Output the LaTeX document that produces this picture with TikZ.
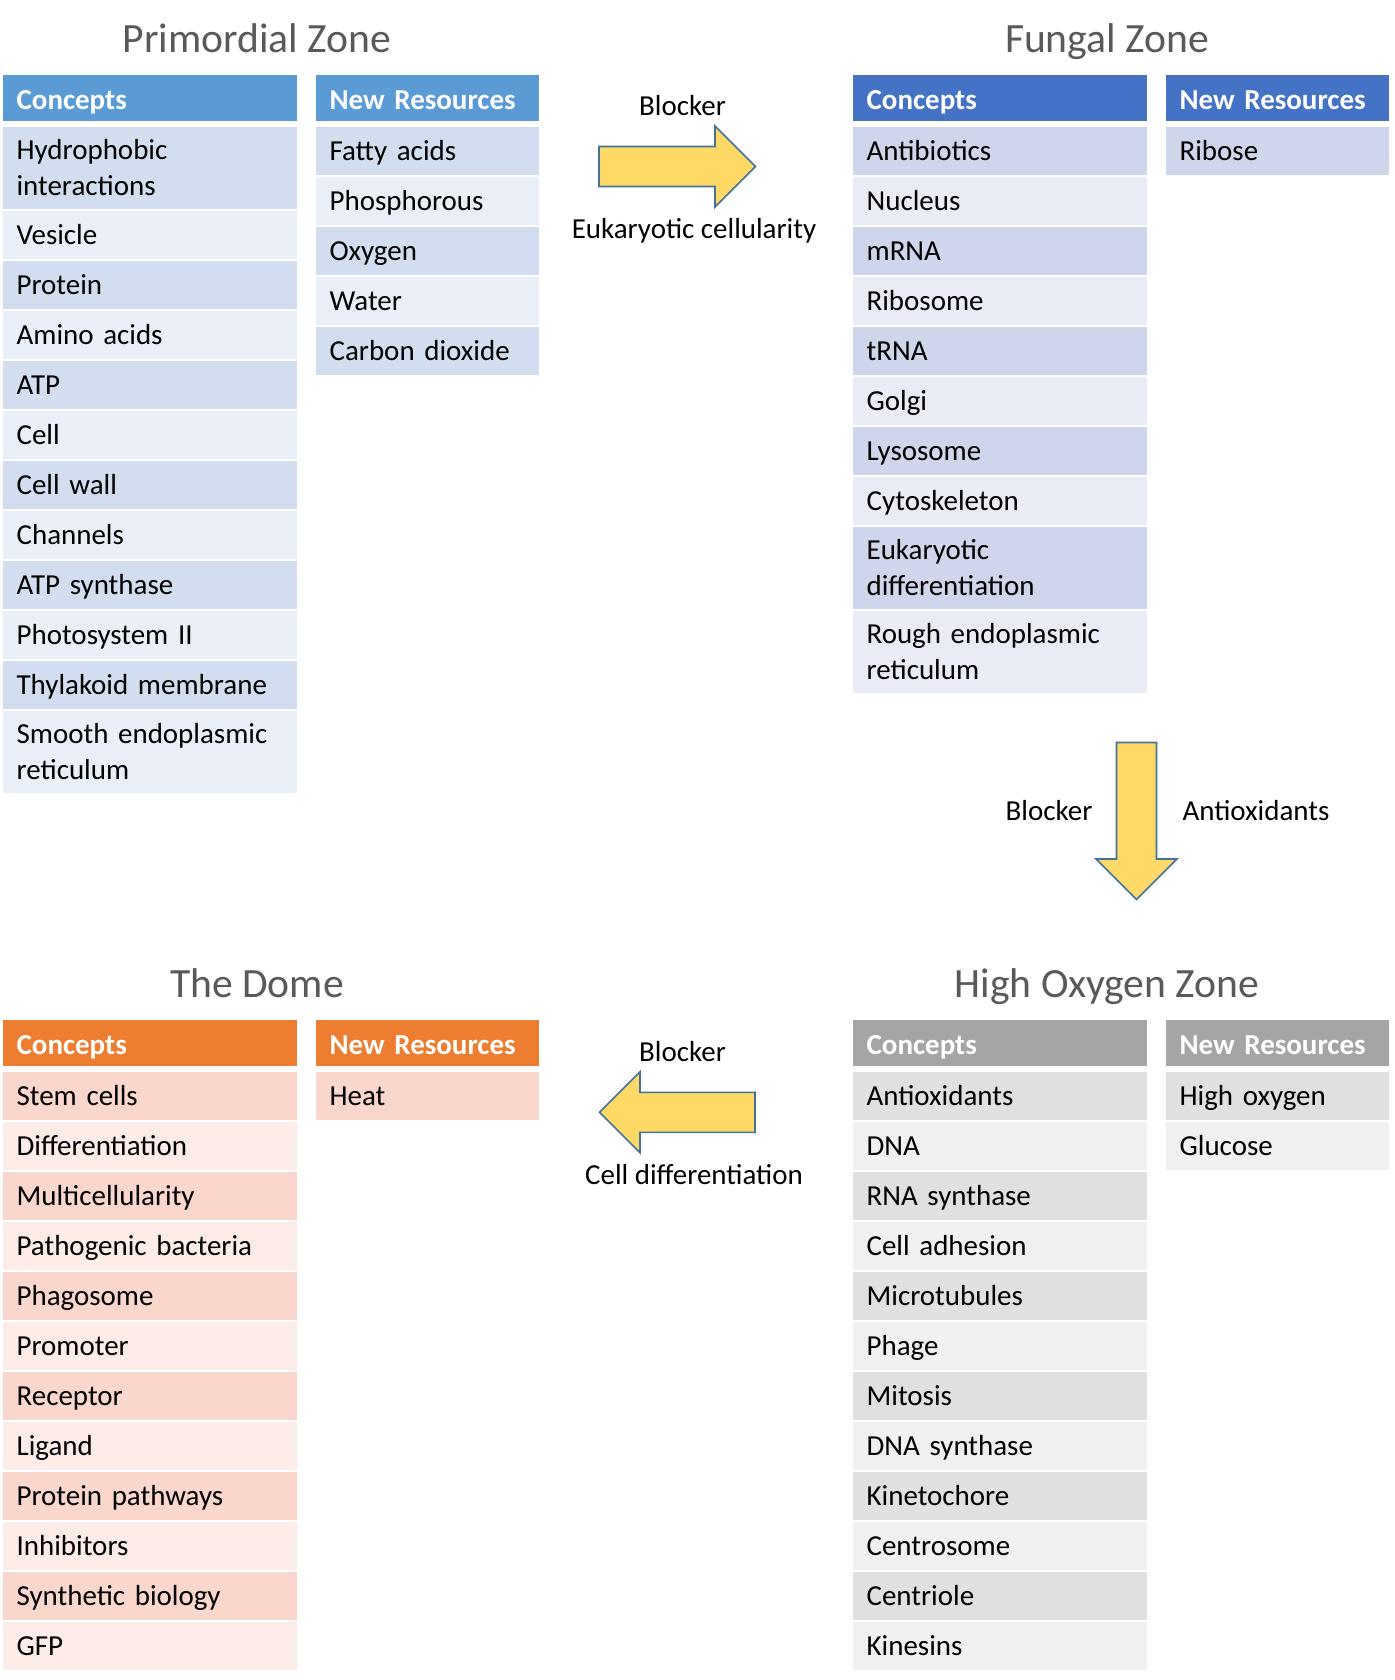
\documentclass[tikz,border=0pt]{standalone}
\usepackage{fontspec}
\setmainfont{Carlito}
\usetikzlibrary{positioning}

\definecolor{primhead}{HTML}{5B9BD5}
\definecolor{primdark}{HTML}{D2DEEF}
\definecolor{primlight}{HTML}{EAEFF7}
\definecolor{funghead}{HTML}{4472C4}
\definecolor{fungdark}{HTML}{CFD5EA}
\definecolor{funglight}{HTML}{E9EBF5}
\definecolor{domehead}{HTML}{ED7D31}
\definecolor{domedark}{HTML}{F9D7CD}
\definecolor{domelight}{HTML}{FBECE8}
\definecolor{oxyhead}{HTML}{A5A5A5}
\definecolor{oxydark}{HTML}{E0E0E0}
\definecolor{oxylight}{HTML}{F0F0F0}
\definecolor{titlegray}{HTML}{595959}
\definecolor{arrowfill}{HTML}{FFD966}
\definecolor{arrowline}{HTML}{41719C}

\newcommand{\hdstrut}{\rule[-4.5pt]{0pt}{25.2pt}}
\newcommand{\rowtop}{\rule{0pt}{19.55pt}}
\newcommand{\rowbot}{\rule[-5.65pt]{0pt}{5.65pt}}

\begin{document}
\begin{tikzpicture}[x=0.025cm, y=-0.025cm, node distance=0.0625cm, font=\fontsize{20.6}{25.2}\selectfont]

    \tikzstyle{headbox}=[rectangle, anchor=north west, outer sep=0pt, inner xsep=0.34cm, inner ysep=0pt, minimum height=1.15cm, align=left, text=white, font=\fontsize{20.6}{25.2}\selectfont\bfseries, execute at begin node=\hdstrut]
    \tikzstyle{cellbox}=[rectangle, outer sep=0pt, inner xsep=0.34cm, inner ysep=0pt, minimum height=1.1875cm, align=left, text=black, execute at begin node=\rowtop, execute at end node=\rowbot]
    \tikzstyle{tworow}=[minimum height=2.0375cm]
    \tikzstyle{widecol}=[text width=6.67cm]
    \tikzstyle{slimcol}=[text width=4.8825cm]
    \tikzstyle{zonetitle}=[anchor=base, text=titlegray, font=\fontsize{29.6}{35}\selectfont]
    \tikzstyle{arrowtext}=[anchor=base, text=black]
    \tikzstyle{blockarrow}=[fill=arrowfill, draw=arrowline, line width=1.1pt, line join=miter]

    \useasboundingbox (0,0) rectangle (1394,1680);

    % Primordial Zone
    \node[zonetitle] (ptitle) at (257,52.7)                       {Primordial Zone};
    \node[headbox, widecol, fill=primhead] (pc) at (3,75)          {Concepts};
    \node[cellbox, widecol, tworow, fill=primdark] (pc1) [below=0.15cm of pc] {Hydrophobic\\interactions};
    \node[cellbox, widecol, fill=primlight] (pc2) [below=of pc1]   {Vesicle};
    \node[cellbox, widecol, fill=primdark] (pc3) [below=of pc2]    {Protein};
    \node[cellbox, widecol, fill=primlight] (pc4) [below=of pc3]   {Amino acids};
    \node[cellbox, widecol, fill=primdark] (pc5) [below=of pc4]    {ATP};
    \node[cellbox, widecol, fill=primlight] (pc6) [below=of pc5]   {Cell};
    \node[cellbox, widecol, fill=primdark] (pc7) [below=of pc6]    {Cell wall};
    \node[cellbox, widecol, fill=primlight] (pc8) [below=of pc7]   {Channels};
    \node[cellbox, widecol, fill=primdark] (pc9) [below=of pc8]    {ATP synthase};
    \node[cellbox, widecol, fill=primlight] (pc10) [below=of pc9]  {Photosystem II};
    \node[cellbox, widecol, fill=primdark] (pc11) [below=of pc10]  {Thylakoid membrane};
    \node[cellbox, widecol, tworow, fill=primlight] (pc12) [below=of pc11] {Smooth endoplasmic\\reticulum};

    \node[headbox, slimcol, fill=primhead] (pr) at (316,75)        {New Resources};
    \node[cellbox, slimcol, fill=primdark] (pr1) [below=0.15cm of pr] {Fatty acids};
    \node[cellbox, slimcol, fill=primlight] (pr2) [below=of pr1]   {Phosphorous};
    \node[cellbox, slimcol, fill=primdark] (pr3) [below=of pr2]    {Oxygen};
    \node[cellbox, slimcol, fill=primlight] (pr4) [below=of pr3]   {Water};
    \node[cellbox, slimcol, fill=primdark] (pr5) [below=of pr4]    {Carbon dioxide};

    % Fungal Zone
    \node[zonetitle] (ftitle) at (1107,52.7)                      {Fungal Zone};
    \node[headbox, widecol, fill=funghead] (fc) at (853,75)        {Concepts};
    \node[cellbox, widecol, fill=fungdark] (fc1) [below=0.15cm of fc] {Antibiotics};
    \node[cellbox, widecol, fill=funglight] (fc2) [below=of fc1]   {Nucleus};
    \node[cellbox, widecol, fill=fungdark] (fc3) [below=of fc2]    {mRNA};
    \node[cellbox, widecol, fill=funglight] (fc4) [below=of fc3]   {Ribosome};
    \node[cellbox, widecol, fill=fungdark] (fc5) [below=of fc4]    {tRNA};
    \node[cellbox, widecol, fill=funglight] (fc6) [below=of fc5]   {Golgi};
    \node[cellbox, widecol, fill=fungdark] (fc7) [below=of fc6]    {Lysosome};
    \node[cellbox, widecol, fill=funglight] (fc8) [below=of fc7]   {Cytoskeleton};
    \node[cellbox, widecol, tworow, fill=fungdark] (fc9) [below=of fc8] {Eukaryotic\\differentiation};
    \node[cellbox, widecol, tworow, fill=funglight] (fc10) [below=of fc9] {Rough endoplasmic\\reticulum};

    \node[headbox, slimcol, fill=funghead] (fr) at (1166,75)       {New Resources};
    \node[cellbox, slimcol, fill=fungdark] (fr1) [below=0.15cm of fr] {Ribose};

    % The Dome
    \node[zonetitle] (dtitle) at (257,997.7)                      {The Dome};
    \node[headbox, widecol, fill=domehead] (dc) at (3,1020)        {Concepts};
    \node[cellbox, widecol, fill=domedark] (dc1) [below=0.15cm of dc] {Stem cells};
    \node[cellbox, widecol, fill=domelight] (dc2) [below=of dc1]   {Differentiation};
    \node[cellbox, widecol, fill=domedark] (dc3) [below=of dc2]    {Multicellularity};
    \node[cellbox, widecol, fill=domelight] (dc4) [below=of dc3]   {Pathogenic bacteria};
    \node[cellbox, widecol, fill=domedark] (dc5) [below=of dc4]    {Phagosome};
    \node[cellbox, widecol, fill=domelight] (dc6) [below=of dc5]   {Promoter};
    \node[cellbox, widecol, fill=domedark] (dc7) [below=of dc6]    {Receptor};
    \node[cellbox, widecol, fill=domelight] (dc8) [below=of dc7]   {Ligand};
    \node[cellbox, widecol, fill=domedark] (dc9) [below=of dc8]    {Protein pathways};
    \node[cellbox, widecol, fill=domelight] (dc10) [below=of dc9]  {Inhibitors};
    \node[cellbox, widecol, fill=domedark] (dc11) [below=of dc10]  {Synthetic biology};
    \node[cellbox, widecol, fill=domelight] (dc12) [below=of dc11] {GFP};

    \node[headbox, slimcol, fill=domehead] (dr) at (316,1020)      {New Resources};
    \node[cellbox, slimcol, fill=domedark] (dr1) [below=0.15cm of dr] {Heat};

    % High Oxygen Zone
    \node[zonetitle] (otitle) at (1107,997.7)                     {High Oxygen Zone};
    \node[headbox, widecol, fill=oxyhead] (oc) at (853,1020)       {Concepts};
    \node[cellbox, widecol, fill=oxydark] (oc1) [below=0.15cm of oc] {Antioxidants};
    \node[cellbox, widecol, fill=oxylight] (oc2) [below=of oc1]    {DNA};
    \node[cellbox, widecol, fill=oxydark] (oc3) [below=of oc2]     {RNA synthase};
    \node[cellbox, widecol, fill=oxylight] (oc4) [below=of oc3]    {Cell adhesion};
    \node[cellbox, widecol, fill=oxydark] (oc5) [below=of oc4]     {Microtubules};
    \node[cellbox, widecol, fill=oxylight] (oc6) [below=of oc5]    {Phage};
    \node[cellbox, widecol, fill=oxydark] (oc7) [below=of oc6]     {Mitosis};
    \node[cellbox, widecol, fill=oxylight] (oc8) [below=of oc7]    {DNA synthase};
    \node[cellbox, widecol, fill=oxydark] (oc9) [below=of oc8]     {Kinetochore};
    \node[cellbox, widecol, fill=oxylight] (oc10) [below=of oc9]   {Centrosome};
    \node[cellbox, widecol, fill=oxydark] (oc11) [below=of oc10]   {Centriole};
    \node[cellbox, widecol, fill=oxylight] (oc12) [below=of oc11]  {Kinesins};

    \node[headbox, slimcol, fill=oxyhead] (oxr) at (1166,1020)     {New Resources};
    \node[cellbox, slimcol, fill=oxydark] (oxr1) [below=0.15cm of oxr] {High oxygen};
    \node[cellbox, slimcol, fill=oxylight] (oxr2) [below=of oxr1]  {Glucose};

    % block arrows
    \draw[blockarrow] (599,146.5) -- (715,146.5) -- (715,126) -- (755.5,166.5) -- (715,207) -- (715,186.5) -- (599,186.5) -- cycle;
    \draw[blockarrow] (1116.5,742.5) -- (1156.5,742.5) -- (1156.5,859) -- (1177,859) -- (1136.5,899.5) -- (1096,859) -- (1116.5,859) -- cycle;
    \draw[blockarrow] (755,1092.3) -- (640,1092.3) -- (640,1071.8) -- (599.5,1112.3) -- (640,1152.8) -- (640,1132.3) -- (755,1132.3) -- cycle;

    \node[arrowtext] (b1) at (682.5,116)    {Blocker};
    \node[arrowtext] (l1) at (694,238.5)    {Eukaryotic cellularity};
    \node[arrowtext] (b2) at (1049,820.7)   {Blocker};
    \node[arrowtext] (l2) at (1256,820.7)   {Antioxidants};
    \node[arrowtext] (b3) at (682.5,1061.7) {Blocker};
    \node[arrowtext] (l3) at (694,1184.3)   {Cell differentiation};
\end{tikzpicture}
\end{document}
